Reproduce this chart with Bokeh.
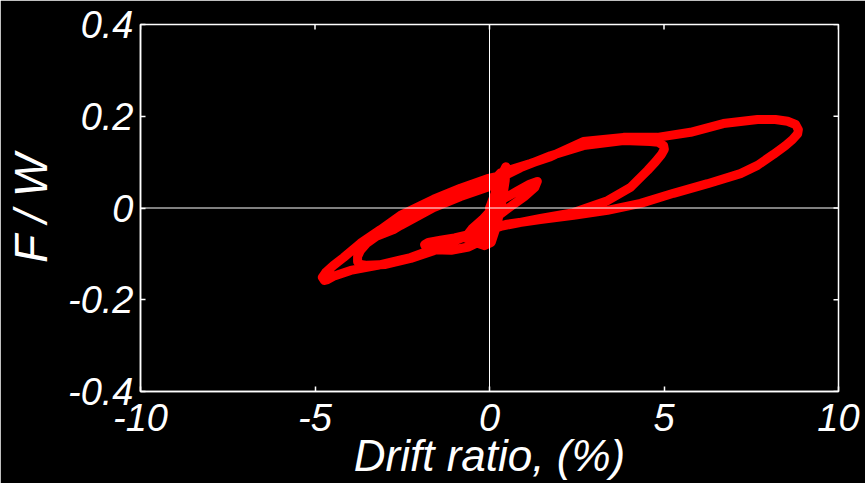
from bokeh.plotting import figure
from bokeh.models import Span, Label, FixedTicker
from bokeh.embed import file_html
from bokeh.resources import INLINE

# Hysteresis response: drift ratio (%) vs normalised lateral force F/W
drift = [
    # small cycles around the origin
    0.00, 0.20, 0.40, 0.47, 0.45, 0.35, 0.20, 0.05, -0.15, -0.40,
    -0.70, -0.50, -0.20, 0.10, 0.40, 0.80, 1.15, 1.37, 1.30, 1.00,
    0.60, 0.20, -0.20, -0.60, -1.00, -1.40, -1.75, -1.86, -1.80, -1.60,
    -1.10, -0.60, -0.20, 0.05, 0.15,
    # cycle to +5 % / -3.8 %
    0.17, 0.89, 1.75, 2.69, 3.84, 4.61, 4.84, 4.99, 5.01, 4.93,
    4.76, 4.53, 4.04, 3.38, 2.41, 1.46, 0.32, -0.06, -0.83, -1.60,
    -2.26, -2.98, -3.50, -3.70, -3.78, -3.78, -3.70, -3.52, -3.24, -2.75,
    -2.55, -1.60, -0.83, -0.06,
    # cycle to +8.8 % / -4.7 %
    0.32, 1.17, 1.75, 2.69, 3.84, 4.81, 5.76, 6.70, 7.68, 8.19,
    8.54, 8.77, 8.85, 8.83, 8.68, 8.48, 8.14, 7.68, 7.19, 6.25,
    5.27, 4.33, 3.38, 2.41, 1.46, 0.46, -0.06, -0.63, -1.40, -2.26,
    -3.21, -3.98, -4.47, -4.64, -4.73, -4.79, -4.70, -4.47, -4.18, -3.70,
    -3.12, -2.55, -1.60, -0.83, -0.06, 0.23,
]
force = [
    0.000, 0.040, 0.080, 0.090, 0.060, 0.010, -0.040, -0.075, -0.082, -0.075,
    -0.065, -0.045, -0.025, 0.000, 0.020, 0.037, 0.052, 0.058, 0.045, 0.025,
    0.003, -0.020, -0.040, -0.058, -0.065, -0.070, -0.075, -0.080, -0.088, -0.091,
    -0.092, -0.085, -0.070, -0.040, 0.000,
    0.060, 0.088, 0.114, 0.136, 0.147, 0.145, 0.143, 0.136, 0.128, 0.117,
    0.101, 0.082, 0.045, 0.016, -0.010, -0.023, -0.040, -0.049, -0.066, -0.093,
    -0.110, -0.123, -0.125, -0.123, -0.117, -0.106, -0.093, -0.077, -0.062, -0.047,
    -0.038, 0.001, 0.025, 0.045,
    0.077, 0.097, 0.112, 0.145, 0.154, 0.154, 0.165, 0.184, 0.193, 0.193,
    0.189, 0.182, 0.171, 0.162, 0.149, 0.136, 0.117, 0.093, 0.075, 0.053,
    0.032, 0.010, -0.005, -0.016, -0.025, -0.036, -0.045, -0.060, -0.084, -0.108,
    -0.125, -0.136, -0.149, -0.156, -0.158, -0.151, -0.141, -0.125, -0.108, -0.077,
    -0.047, -0.016, 0.019, 0.043, 0.064, 0.069,
]

x_ticks = [-10, -5, 0, 5, 10]
y_ticks = [-0.4, -0.2, 0, 0.2, 0.4]
x_tick_text = ["-10", "-5", "0", "5", "10"]
y_tick_text = ["-0.4", "-0.2", "0", "0.2", "0.4"]
x_min, x_max = -10, 10
y_min, y_max = -0.4, 0.4

FONT = "Liberation Sans"
TICK_SIZE = "38px"
LABEL_SIZE = "44px"

p = figure(
    width=865, height=483,
    x_range=(x_min, x_max), y_range=(y_min, y_max),
    output_backend="svg", toolbar_location=None,
    min_border_left=140, min_border_right=27,
    min_border_top=24, min_border_bottom=92,
    background_fill_color="black", border_fill_color="black",
    x_axis_label="Drift ratio, (%)", y_axis_label="F / W",
)
p.grid.visible = False
p.outline_line_color = "white"
p.outline_line_width = 1.5

for ax in (p.xaxis[0], p.yaxis[0]):
    ax.axis_line_color = "white"
    ax.axis_line_width = 1.5
    ax.major_tick_line_color = "white"
    ax.major_tick_line_width = 1.5
    ax.major_tick_in = 5
    ax.major_tick_out = 0
    ax.minor_tick_line_color = None
    ax.major_label_text_color = "white"
    ax.major_label_text_font = FONT
    ax.major_label_text_font_style = "italic"
    ax.major_label_text_font_size = TICK_SIZE
    ax.axis_label_text_color = "white"
    ax.axis_label_text_font = FONT
    ax.axis_label_text_font_style = "italic"
    ax.axis_label_text_font_size = LABEL_SIZE

p.yaxis.axis_label_text_font_size = "46px"

p.xaxis.ticker = FixedTicker(ticks=x_ticks)
p.yaxis.ticker = FixedTicker(ticks=y_ticks)
p.xaxis.major_label_overrides = dict(zip(x_ticks, x_tick_text))
p.yaxis.major_label_overrides = dict(zip(y_ticks, y_tick_text))
p.xaxis.major_label_standoff = 12
p.xaxis.axis_label_standoff = -3
p.yaxis.major_label_standoff = 7
p.yaxis.axis_label_standoff = 8

# tick marks on the top and right edges of the box
tick_dx = (x_max - x_min) / 698 * 5
tick_dy = (y_max - y_min) / 367 * 5
p.segment(x0=x_ticks, x1=x_ticks, y0=[y_max] * len(x_ticks),
          y1=[y_max - tick_dy] * len(x_ticks), line_color="white", line_width=1.5)
p.segment(x0=[x_max] * len(y_ticks), x1=[x_max - tick_dx] * len(y_ticks),
          y0=y_ticks, y1=y_ticks, line_color="white", line_width=1.5)

# zero reference lines
p.add_layout(Span(location=0, dimension="height", line_color="white", line_width=1))
p.add_layout(Span(location=0, dimension="width", line_color="white", line_width=1))

p.line(drift, force, line_color="#ff0000", line_width=9,
       line_join="round", line_cap="round")

p.add_layout(Label(x=-1.7, y=0.470, text="(a)", text_color="white",
                   text_font=FONT, text_font_style="italic",
                   text_font_size=LABEL_SIZE, text_align="center",
                   text_baseline="alphabetic"))

open("out.html", "w").write(file_html(p, INLINE))
